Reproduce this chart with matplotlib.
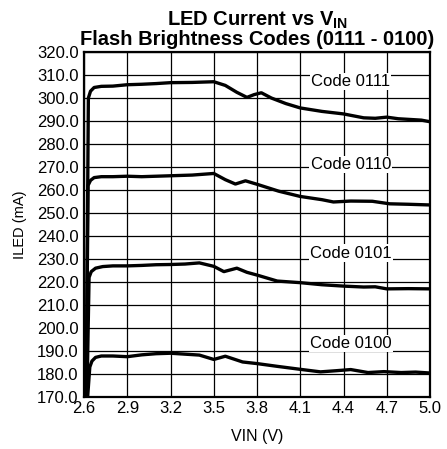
import matplotlib
matplotlib.use("Agg")
import matplotlib.pyplot as plt
import numpy as np

plt.rcParams["font.family"] = ["Liberation Sans", "DejaVu Sans"]
plt.rcParams["mathtext.fontset"] = "custom"
plt.rcParams["mathtext.bf"] = "Liberation Sans:bold"
plt.rcParams["mathtext.rm"] = "Liberation Sans"

# VIN (V) and ILED (mA)
vin_0111 = [2.615, 2.63, 2.645, 2.67, 2.72, 2.80, 2.90, 3.00, 3.10, 3.20, 3.35, 3.50, 3.58, 3.66, 3.73, 3.78, 3.83, 3.90, 4.00, 4.10, 4.25, 4.40, 4.54, 4.62, 4.70, 4.78, 4.86, 4.94, 5.00]
iled_0111 = [170.0, 300.0, 303.0, 304.6, 305.1, 305.2, 305.8, 306.0, 306.3, 306.7, 306.8, 307.1, 305.5, 302.5, 300.3, 301.5, 302.3, 300.0, 297.6, 295.7, 294.2, 293.1, 291.4, 291.2, 291.7, 291.0, 290.7, 290.4, 289.7]

vin_0110 = [2.615, 2.628, 2.645, 2.67, 2.72, 2.80, 2.90, 3.00, 3.10, 3.20, 3.35, 3.50, 3.58, 3.65, 3.72, 3.80, 3.95, 4.10, 4.25, 4.33, 4.45, 4.60, 4.72, 4.85, 5.00]
iled_0110 = [170.0, 262.0, 264.2, 265.4, 265.8, 265.8, 266.0, 265.8, 266.0, 266.2, 266.5, 267.2, 264.5, 262.6, 264.0, 262.5, 259.5, 257.2, 255.8, 254.8, 255.2, 255.1, 254.0, 253.8, 253.5]

vin_0101 = [2.62, 2.635, 2.65, 2.68, 2.73, 2.80, 2.90, 3.00, 3.10, 3.20, 3.30, 3.40, 3.50, 3.57, 3.66, 3.73, 3.80, 3.94, 4.10, 4.25, 4.40, 4.54, 4.62, 4.70, 4.85, 5.00]
iled_0101 = [170.0, 222.0, 224.5, 226.0, 226.7, 227.0, 227.0, 227.2, 227.5, 227.6, 227.8, 228.3, 226.8, 224.5, 226.0, 224.2, 223.0, 220.4, 219.7, 218.8, 218.2, 217.8, 217.9, 217.0, 217.1, 217.0]

vin_0100 = [2.625, 2.64, 2.655, 2.68, 2.72, 2.80, 2.90, 3.00, 3.10, 3.20, 3.30, 3.40, 3.50, 3.58, 3.70, 3.80, 3.94, 4.10, 4.24, 4.35, 4.45, 4.57, 4.68, 4.80, 4.90, 5.00]
iled_0100 = [170.0, 183.0, 185.6, 187.2, 187.8, 187.8, 187.5, 188.3, 188.8, 189.0, 188.6, 188.2, 186.3, 187.7, 185.2, 184.5, 183.3, 182.0, 180.9, 181.4, 181.9, 180.6, 181.0, 180.6, 180.8, 180.4]

series = [
    (vin_0111, iled_0111, "Code 0111", 307.2),
    (vin_0110, iled_0110, "Code 0110", 271.2),
    (vin_0101, iled_0101, "Code 0101", 232.6),
    (vin_0100, iled_0100, "Code 0100", 193.2),
]

x_ticks = [2.6, 2.9, 3.2, 3.5, 3.8, 4.1, 4.4, 4.7, 5.0]
y_ticks = np.arange(170, 321, 10)

fig = plt.figure(figsize=(4.47, 4.49), dpi=100)
ax = fig.add_axes([0.188, 0.116, 0.774, 0.768])

for vin, iled, label, ylab in series:
    ax.plot(vin, iled, color="black", lw=2.4, solid_capstyle="butt",
            solid_joinstyle="round", zorder=3)
    ax.text(4.45, ylab, label, ha="center", va="center", fontsize=12,
            bbox=dict(facecolor="white", edgecolor="none", pad=0.8), zorder=4)

ax.set_xlim(2.6, 5.0)
ax.set_ylim(170, 320)
ax.set_xticks(x_ticks)
ax.set_xticklabels([f"{v:.1f}" for v in x_ticks])
ax.set_yticks(y_ticks)
ax.set_yticklabels([f"{v:.1f}" for v in y_ticks])
ax.tick_params(length=0, labelsize=12)
ax.tick_params(axis="x", pad=3)
ax.tick_params(axis="y", pad=4)
ax.grid(True, color="black", lw=0.9)
for s in ax.spines.values():
    s.set_linewidth(1.6)

ax.set_xlabel("VIN (V)", fontsize=11.5, labelpad=9)
ax.set_ylabel("ILED (mA)", fontsize=10.5, labelpad=7)
ax.set_title("LED Current vs V$_{\\mathbf{IN}}$\nFlash Brightness Codes (0111 - 0100)",
             fontsize=14.5, fontweight="bold", pad=5, linespacing=0.95)

fig.savefig("out.png", dpi=100)
